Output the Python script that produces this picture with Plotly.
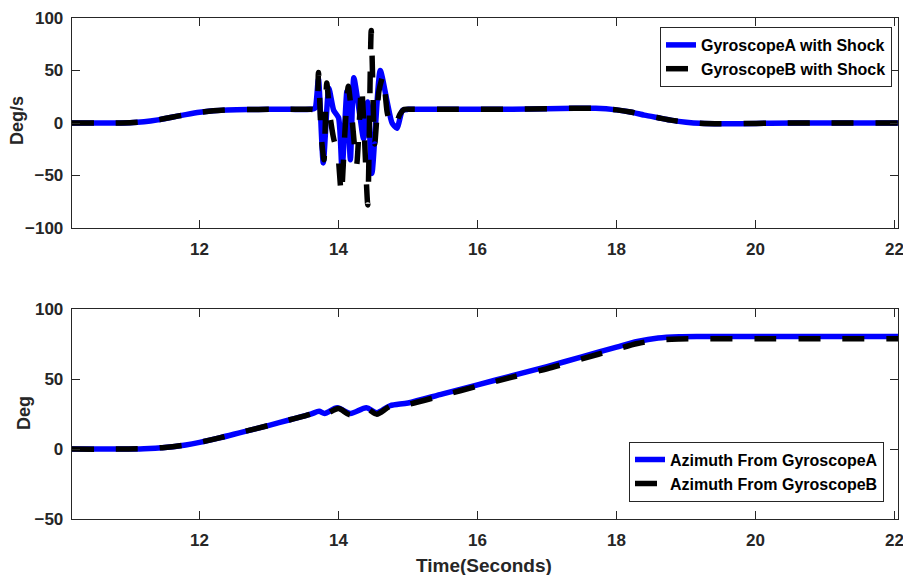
import plotly.graph_objects as go

# ---------------- data ----------------
# Angular rate (deg/s) - smooth portions shared by both gyroscopes
rate_pre_t = [10.16, 10.6, 11.0, 11.2, 11.4, 11.6, 11.8, 12.0, 12.2, 12.4, 12.7, 13.0, 13.3, 13.6]
rate_pre_v = [0, 0, 0.3, 1.2, 3, 5.5, 8, 10.2, 11.6, 12.4, 12.9, 13, 13, 13]
rate_post_t = [15.05, 15.5, 16.0, 16.5, 17.0, 17.4, 17.7, 18.0, 18.2, 18.4, 18.6, 18.8, 19.0, 19.2,
               19.5, 19.8, 20.2, 21.0, 22.05]
rate_post_v = [13, 13, 13, 13.2, 13.6, 14, 14, 12.5, 10.5, 7.5, 5, 2.5, 0.8, -0.3,
               -0.8, -0.6, -0.2, 0, 0]

# shock section, gyroscope A
shockA_t = [13.66, 13.71, 13.78, 13.86, 13.93, 14.00, 14.05, 14.12, 14.17, 14.22, 14.30, 14.36,
            14.42, 14.48, 14.60, 14.70, 14.77, 14.84, 14.92, 15.0]
shockA_v = [14, 42, -38, 33, 12, 5, -45, 30, -35, 43, 10, -15,
            20, -48, 50, 20, 0, -5, 12, 13]

# shock section, gyroscope B
shockB_t = [13.68, 13.71, 13.75, 13.79, 13.83, 13.88, 13.93, 13.99, 14.04, 14.09, 14.14, 14.20,
            14.26, 14.33, 14.37, 14.42, 14.47, 14.52, 14.58, 14.64, 14.70, 14.76, 14.82, 14.88, 14.95]
shockB_v = [13, 48, -12, -35, 38, 5, -15, -30, -68, -10, 35, 0,
            -40, 35, -10, -78, 88, -20, 30, 45, 10, -3, -2, 8, 13]

# Azimuth (deg)
azA_t = [10.16, 10.8, 11.2, 11.5, 11.8, 12.0, 12.3, 12.6, 13.0, 13.3, 13.6, 13.72, 13.8, 13.98,
         14.17, 14.4, 14.55, 14.74, 15.0, 15.5, 16.0, 16.5, 17.0, 17.5, 18.0, 18.3, 18.6, 18.9,
         19.2, 20.0, 21.0, 22.05]
azA_v = [0, 0, 0.3, 1.2, 3, 4.8, 8.2, 12, 17, 21, 25, 27, 25.5, 29.5,
         25.5, 29.5, 26, 31, 33, 39.5, 46, 52.5, 59, 66, 73, 77, 79.5, 80.4,
         80.6, 80.6, 80.6, 80.6]
azB_t = [10.16, 10.8, 11.2, 11.5, 11.8, 12.0, 12.3, 12.6, 13.0, 13.3, 13.6, 13.72, 13.8, 14.0,
         14.17, 14.4, 14.55, 14.74, 15.0, 15.5, 16.0, 16.5, 17.0, 17.5, 18.0, 18.3, 18.6, 18.9,
         19.2, 20.0, 21.0, 22.05]
azB_v = [0, 0, 0.3, 1.2, 3, 4.8, 8.2, 12, 17, 21, 25, 27, 25, 29,
         24.5, 29, 25, 30.5, 32, 38.5, 45, 51.5, 57.5, 64.5, 71.5, 75.5, 78, 78.8,
         79, 79, 79, 79]

x_ticks = [12, 14, 16, 18, 20, 22]
rate_ticks = [-100, -50, 0, 50, 100]
az_ticks = [-50, 0, 50, 100]

names_top = ["GyroscopeA with Shock", "GyroscopeB with Shock"]
names_bot = ["Azimuth From GyroscopeA", "Azimuth From GyroscopeB"]

# ---------------- figure ----------------
W, H = 903, 575
BLUE = "#0000FF"
BLACK = "#000000"
DARK = "#262626"
FONT = "Liberation Sans, Arial, sans-serif"

rateA_t = rate_pre_t + shockA_t + rate_post_t
rateA_v = rate_pre_v + shockA_v + rate_post_v
rateB_t = rate_pre_t + shockB_t + rate_post_t
rateB_v = rate_pre_v + shockB_v + rate_post_v

fig = go.Figure()
fig.add_trace(go.Scatter(x=rateA_t, y=rateA_v, mode="lines", name=names_top[0],
                         line=dict(color=BLUE, width=5.5, shape="spline", smoothing=0.6),
                         xaxis="x", yaxis="y", legend="legend"))
fig.add_trace(go.Scatter(x=rateB_t, y=rateB_v, mode="lines", name=names_top[1],
                         line=dict(color=BLACK, width=5.5, dash="22px,22px", shape="spline", smoothing=0.6),
                         xaxis="x", yaxis="y", legend="legend"))
fig.add_trace(go.Scatter(x=azA_t, y=azA_v, mode="lines", name=names_bot[0],
                         line=dict(color=BLUE, width=5.5, shape="spline", smoothing=0.8),
                         xaxis="x2", yaxis="y2", legend="legend2"))
fig.add_trace(go.Scatter(x=azB_t, y=azB_v, mode="lines", name=names_bot[1],
                         line=dict(color=BLACK, width=5.5, dash="22px,22px", shape="spline", smoothing=0.8),
                         xaxis="x2", yaxis="y2", legend="legend2"))

tickfont = dict(family=FONT, size=17, color=DARK, weight="bold")
x_dom = [71.7 / W, 898 / W]
top_dom = [1 - 228 / H, 1 - 18 / H]
bot_dom = [1 - 519 / H, 1 - 309.3 / H]

common_x = dict(range=[10.16, 22.05], tickvals=x_ticks, showline=True, linecolor=DARK, linewidth=1,
                mirror="ticks", ticks="inside", ticklen=8, tickcolor=DARK, showgrid=False,
                zeroline=False, tickfont=tickfont, ticklabelstandoff=6, automargin=False,
                ticklabeloverflow="allow")
common_y = dict(showline=True, linecolor=DARK, linewidth=1, mirror="ticks", ticks="inside",
                ticklen=8, tickcolor=DARK, showgrid=False, zeroline=False, tickfont=tickfont,
                ticklabelstandoff=4, automargin=False, ticklabeloverflow="allow")

legend_common = dict(bgcolor="white", bordercolor=DARK, borderwidth=1,
                     font=dict(family=FONT, size=16, color=BLACK, weight="bold"),
                     xanchor="right", yanchor="top", itemwidth=30, tracegroupgap=0)

fig.update_layout(
    width=W, height=H,
    margin=dict(l=0, r=0, t=0, b=0, pad=0, autoexpand=False),
    paper_bgcolor="white", plot_bgcolor="white",
    xaxis=dict(domain=x_dom, anchor="y", **common_x),
    yaxis=dict(domain=top_dom, anchor="x", range=[-100, 100], tickvals=rate_ticks, **common_y),
    xaxis2=dict(domain=x_dom, anchor="y2", **common_x),
    yaxis2=dict(domain=bot_dom, anchor="x2", range=[-50, 100], tickvals=az_ticks, **common_y),
    legend=dict(x=892 / W, y=1 - 27 / H, **legend_common),
    legend2=dict(x=884 / W, y=1 - 441.7 / H, **legend_common),
    annotations=[
        dict(text="Deg/s", x=17 / W, y=1 - 121 / H, xref="paper", yref="paper", showarrow=False,
             textangle=-90, font=dict(family=FONT, size=18, color=DARK, weight="bold"),
             xanchor="center", yanchor="middle"),
        dict(text="Deg", x=24 / W, y=1 - 413 / H, xref="paper", yref="paper", showarrow=False,
             textangle=-90, font=dict(family=FONT, size=18, color=DARK, weight="bold"),
             xanchor="center", yanchor="middle"),
        dict(text="Time(Seconds)", x=484 / W, y=1 - 565 / H, xref="paper", yref="paper",
             showarrow=False, font=dict(family=FONT, size=19, color=DARK, weight="bold"),
             xanchor="center", yanchor="middle"),
    ],
    showlegend=True,
)

fig.write_html("out.html")
